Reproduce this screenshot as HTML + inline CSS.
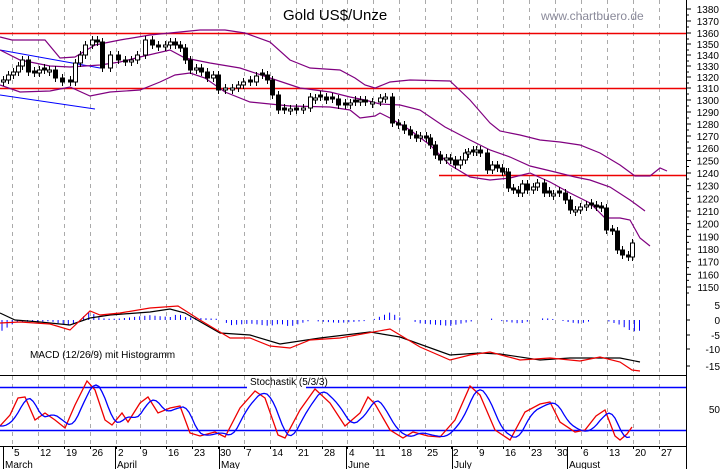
<!DOCTYPE html>
<html><head><meta charset="utf-8"><style>
body{margin:0;background:#fff;}
svg{display:block;font-family:"Liberation Sans",sans-serif;}
</style></head><body>
<svg id="s" width="723" height="469" xmlns="http://www.w3.org/2000/svg">
<rect width="723" height="469" fill="#fff"/>
<g id="grid" stroke="#aaa" stroke-dasharray="4,4" stroke-width="1"></g>
<text x="283" y="20" font-size="15" fill="#000">Gold US$/Unze</text>
<text x="541" y="20" font-size="12" fill="#8a8a9a">www.chartbuero.de</text>
<line x1="0" y1="33.5" x2="686" y2="33.5" stroke="#e00" stroke-width="1.5"/>
<line x1="0" y1="88.5" x2="686" y2="88.5" stroke="#e00" stroke-width="1.5"/>
<line x1="439" y1="175.5" x2="686" y2="175.5" stroke="#e00" stroke-width="1.5"/>
<line x1="0" y1="50" x2="100" y2="68" stroke="#00f" stroke-width="1"/>
<line x1="0" y1="95" x2="95" y2="109" stroke="#00f" stroke-width="1"/>
<g id="bb" fill="none" stroke="#800080" stroke-width="1.2"></g>
<g id="candles"></g>
<g id="macd"></g>
<text x="30" y="358" font-size="10" fill="#000">MACD (12/26/9) mit Histogramm</text>
<line x1="0" y1="375.5" x2="686" y2="375.5" stroke="#000"/>
<line x1="0" y1="387.5" x2="247" y2="387.5" stroke="#00f" stroke-width="1.5"/>
<line x1="306" y1="387.5" x2="686" y2="387.5" stroke="#00f" stroke-width="1.5"/>
<line x1="0" y1="430.5" x2="686" y2="430.5" stroke="#00f" stroke-width="1.5"/>
<text x="250" y="385" font-size="10" fill="#000">Stochastik (5/3/3)</text>
<g id="stoch"></g>
<line x1="0" y1="446.5" x2="686" y2="446.5" stroke="#000"/>
<line x1="686.5" y1="0" x2="686.5" y2="469" stroke="#000"/>
<g id="axis" font-size="10" fill="#000"></g>
</svg>
<script>
var NS="http://www.w3.org/2000/svg";
function el(p,t,a,txt){var e=document.createElementNS(NS,t);for(var k in a)e.setAttribute(k,a[k]);if(txt!=null)e.textContent=txt;document.getElementById(p).appendChild(e);return e;}
var gx=[12,38,64,90,116,140,166,192,218,244,270,296,322,347,373,399,425,451,477,503,529,555,581,607,633,659];
gx.forEach(function(x){el("grid","line",{x1:x+.5,y1:0,x2:x+.5,y2:446});});
function pl(pts){return pts.map(function(p){return p[0]+","+p[1]}).join(" ");}
var up=[[0,37],[12,40],[25,40],[45,40],[60,58],[75,57],[95,45],[120,40],[150,35],[170,33],[200,30],[225,30],[245,33],[270,42],[290,60],[310,68],[340,70],[355,78],[365,85],[375,88],[390,82],[410,80],[450,81],[470,100],[490,123],[500,131],[520,135],[540,140],[560,142],[580,145],[600,153],[620,165],[635,176],[650,176],[660,168],[667,171]];
var mid=[[0,50],[20,60],[50,66],[70,67],[100,65],[120,62],[140,57],[170,50],[185,58],[210,63],[240,68],[270,78],[300,88],[330,92],[350,97],[365,100],[380,104],[400,105],[420,110],[445,127],[470,140],[490,150],[510,157],[530,166],[555,172],[575,177],[590,180],[610,187],[630,200],[645,211]];
var lo=[[0,85],[20,92],[50,91],[70,87],[90,96],[110,92],[140,90],[160,82],[175,75],[190,73],[205,78],[225,92],[250,102],[270,104],[290,106],[330,107],[350,110],[360,118],[375,116],[380,113],[390,118],[410,130],[430,145],[450,165],[470,177],[490,180],[510,178],[530,173],[550,182],[570,193],[590,203],[605,218],[620,218],[630,220],[640,238],[650,246]];
[up,mid,lo].forEach(function(a){el("bb","polyline",{points:pl(a)});});
var c=[[3,80],[8,75],[13,72],[18,66],[22,60],[28,72],[34,73],[39,70],[44,70],[49,70],[55,78],[62,82],[70,82],[75,63],[80,55],[85,45],[92,40],[97,42],[102,68],[110,55],[118,60],[125,62],[131,60],[137,55],[145,40],[152,45],[158,47],[165,45],[170,42],[175,45],[180,48],[185,60],[190,70],[196,68],[201,72],[207,78],[213,75],[218,90],[225,88],[232,88],[238,85],[243,82],[250,82],[256,76],[262,75],[267,80],[272,95],[278,110],[284,110],[290,109],[296,110],[303,108],[310,97],[315,98],[320,97],[326,100],[332,99],[338,105],[345,105],[350,103],[355,102],[360,100],[365,102],[372,102],[380,98],[385,97],[392,123],[398,125],[404,130],[410,135],[416,138],[420,136],[426,138],[430,145],[435,155],[440,160],[446,158],[450,160],[455,165],[460,160],[465,153],[468,152],[473,152],[476,150],[480,153],[487,170],[492,165],[497,168],[502,172],[506,172],[508,188],[513,190],[518,193],[522,184],[527,190],[533,187],[537,183],[544,193],[549,193],[553,194],[559,193],[565,200],[570,210],[575,210],[580,207],[586,205],[591,205],[596,207],[601,208],[606,230],[612,231],[617,250],[622,255],[628,257],[632,243]];
var prev=82;
c.forEach(function(p,i){var o=prev,cl=p[1];if(Math.abs(o-cl)<2){o=cl+(i%2?2:-2);}var top=Math.min(o,cl),bot=Math.max(o,cl);
el("candles","line",{x1:p[0]+.5,y1:top-4,x2:p[0]+.5,y2:bot+4,stroke:"#000"});
el("candles","rect",{x:p[0]-1.5,y:top,width:4,height:Math.max(bot-top,1),fill:cl>o?"#000":"#fff",stroke:"#000","stroke-width":1});prev=cl;});
var bl=[[0,313],[15,320],[40,322],[70,325],[90,318],[110,315],[150,312],[170,309],[185,313],[220,333],[250,335],[280,344],[320,338],[370,332],[400,337],[450,355],[480,353],[500,354],[540,360],[570,358],[620,358],[640,362]];
var rd=[[0,323],[20,322],[50,324],[70,330],[90,311],[100,315],[120,313],[150,308],[178,306],[200,320],[230,338],[250,338],[270,346],[290,348],[310,340],[340,338],[390,329],[420,347],[450,360],[470,355],[490,352],[520,360],[550,358],[580,361],[600,357],[620,362],[632,370],[640,371]];
function interp(a,x){for(var i=1;i<a.length;i++)if(x<=a[i][0]){var t=(x-a[i-1][0])/(a[i][0]-a[i-1][0]);return a[i-1][1]+t*(a[i][1]-a[i-1][1]);}return a[a.length-1][1];}
for(var x=2;x<=640;x+=5.1){var d=(interp(bl,x)-interp(rd,x))*1.2;if(Math.abs(d)>1)el("macd","line",{x1:x.toFixed(1),y1:320,x2:x.toFixed(1),y2:(320-d).toFixed(1),stroke:"#00f"});}
el("macd","polyline",{points:pl(bl),fill:"none",stroke:"#000","stroke-width":1.2});
el("macd","polyline",{points:pl(rd),fill:"none",stroke:"#e00","stroke-width":1.2});
var st=[[0,426],[10,415],[18,398],[25,397],[35,420],[45,413],[55,420],[65,428],[75,405],[87,381],[95,390],[105,420],[112,425],[122,413],[128,422],[140,403],[148,397],[158,413],[170,408],[180,406],[190,433],[200,436],[215,432],[225,437],[240,408],[255,391],[265,398],[278,435],[285,438],[300,410],[315,389],[330,403],[345,426],[360,413],[368,397],[375,404],[390,430],[403,438],[413,432],[428,436],[440,437],[455,420],[470,386],[480,395],[495,430],[510,440],[525,412],[540,404],[550,402],[560,422],[575,432],[585,430],[596,416],[605,410],[615,436],[620,440],[627,434],[632,427]];
var sb=[];for(var x=0;x<=632;x+=3){var v=0,n=0;for(var k=-9;k<=0;k+=3){v+=interp(st,Math.max(0,x+k-3));n++;}sb.push([x,(v/n).toFixed(1)]);}
el("stoch","polyline",{points:pl(st),fill:"none",stroke:"#e00","stroke-width":1.3});
el("stoch","polyline",{points:pl(sb),fill:"none",stroke:"#00f","stroke-width":1.3});
// price axis (piecewise from measured tick positions)
var pm=[[-1380,9],[-1360,33],[-1310,88],[-1260,148],[-1240,173],[-1150,287]];
for(var p=1380;p>=1150;p-=10){var y=interp(pm,-p);el("axis","line",{x1:686,y1:y,x2:691,y2:y,stroke:"#000"});el("axis","line",{x1:686,y1:y+6,x2:689,y2:y+6,stroke:"#000"});el("axis","text",{x:719,y:y+4,"text-anchor":"end"},p);}
[[5,305],[0,320],[-5,335],[-10,349],[-15,366]].forEach(function(a){el("axis","line",{x1:686,y1:a[1],x2:690,y2:a[1],stroke:"#000"});el("axis","text",{x:720,y:a[1]+4,"text-anchor":"end"},a[0]);});
el("axis","text",{x:720,y:413,"text-anchor":"end"},"50");
var dl=["5","12","19","26","2","9","16","23","30","7","14","21","28","4","11","18","25","2","9","16","23","30","6","13","20","27"];
dl.forEach(function(t,i){el("axis","text",{x:gx[i]+2,y:456},t);el("axis","line",{x1:gx[i]+.5,y1:446,x2:gx[i]+.5,y2:449,stroke:"#000"});});
[[3,"March"],[115,"April"],[219,"May"],[346,"June"],[452,"July"],[567,"August"]].forEach(function(a){el("axis","line",{x1:a[0]+.5,y1:446,x2:a[0]+.5,y2:469,stroke:"#000"});el("axis","text",{x:a[0]+2,y:468},a[1]);});
</script>
</body></html>
